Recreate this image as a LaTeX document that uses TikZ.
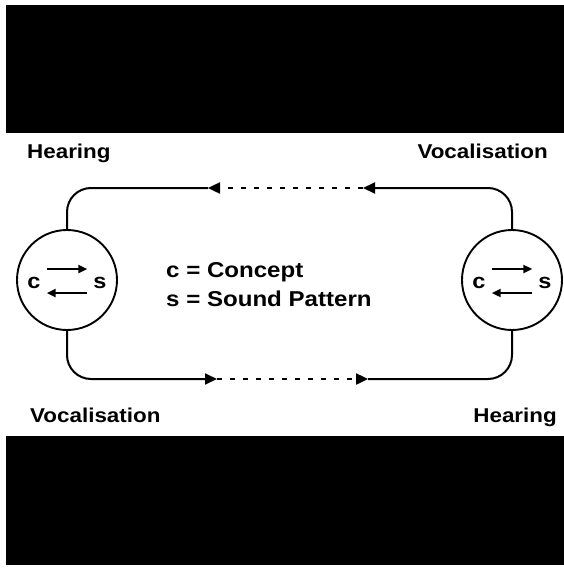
\documentclass[tikz,border=0pt]{standalone}
\usepackage{fontspec}
\setmainfont{Liberation Sans}[FakeStretch=1.12]
\usetikzlibrary{arrows.meta,positioning}
\tikzset{
  mind/.style={circle, draw, line width=1.9pt, minimum size=100pt, inner sep=0pt},
  sym/.style={font=\fontsize{21}{25}\selectfont\bfseries, inner sep=0pt},
  sidelabel/.style={font=\fontsize{20}{24}\selectfont\bfseries, inner sep=0pt},
  keytext/.style={font=\fontsize{21.5}{26}\selectfont\bfseries, inner sep=0pt},
  link/.style={line width=2pt, rounded corners=24pt},
  flow/.style={link, -{Triangle[length=12pt,width=11pt]}},
  gap/.style={line width=2.4pt, dash pattern=on 5pt off 8pt, -{Triangle[length=12pt,width=11pt]}},
  swap/.style={line width=2.3pt, -{Triangle[length=9pt,width=8pt]}}
}
\begin{document}
\begin{tikzpicture}[x=1pt,y=-1pt]
  \useasboundingbox (0,0) rectangle (564,570);
  % black bands
  \fill (6,5) rectangle (564,133);
  \fill (6,436) rectangle (564,565);
  % speakers
  \node[mind] (left) at (67,280) {};
  \node[mind] (right) at (512,280) {};
  \foreach \p in {left,right} {
    \node[sym] (\p-c) at ([xshift=-33pt,yshift=-3pt]\p.center) {c};
    \node[sym] (\p-s) at ([xshift=33pt,yshift=-3pt]\p.center) {s};
    \draw[swap, shorten <=6pt, shorten >=6pt] ([yshift=14pt]\p-c.east) -- ([yshift=14pt]\p-s.west);
    \draw[swap, shorten <=6pt, shorten >=6pt] ([yshift=-10pt]\p-s.west) -- ([yshift=-10pt]\p-c.east);
  }
  % circuit
  \coordinate (topin) at (363,188);
  \coordinate (topout) at (208,188);
  \coordinate (botout) at (217,379);
  \coordinate (botin) at (368,379);
  \draw[flow] (right.north) |- (topin);
  \draw[gap] (topin) -- (topout);
  \draw[link] (topout) -| (left.north);
  \draw[flow] (left.south) |- (botout);
  \draw[gap] (botout) -- (botin);
  \draw[link] (botin) -| (right.south);
  % labels
  \node[sidelabel, anchor=base west] (hearL) at (27,158) {Hearing};
  \node[sidelabel, anchor=base east] (vocR) at (548,158) {Vocalisation};
  \node[sidelabel, anchor=base west] (vocL) at (30,422) {Vocalisation};
  \node[sidelabel, anchor=base east] (hearR) at (557,422) {Hearing};
  % key
  \node[keytext, anchor=base west] (keyc) at (166,277) {c = Concept};
  \node[keytext, anchor=base west] (keys) at ([yshift=-29pt]keyc.base west) {s = Sound Pattern};
\end{tikzpicture}
\end{document}
